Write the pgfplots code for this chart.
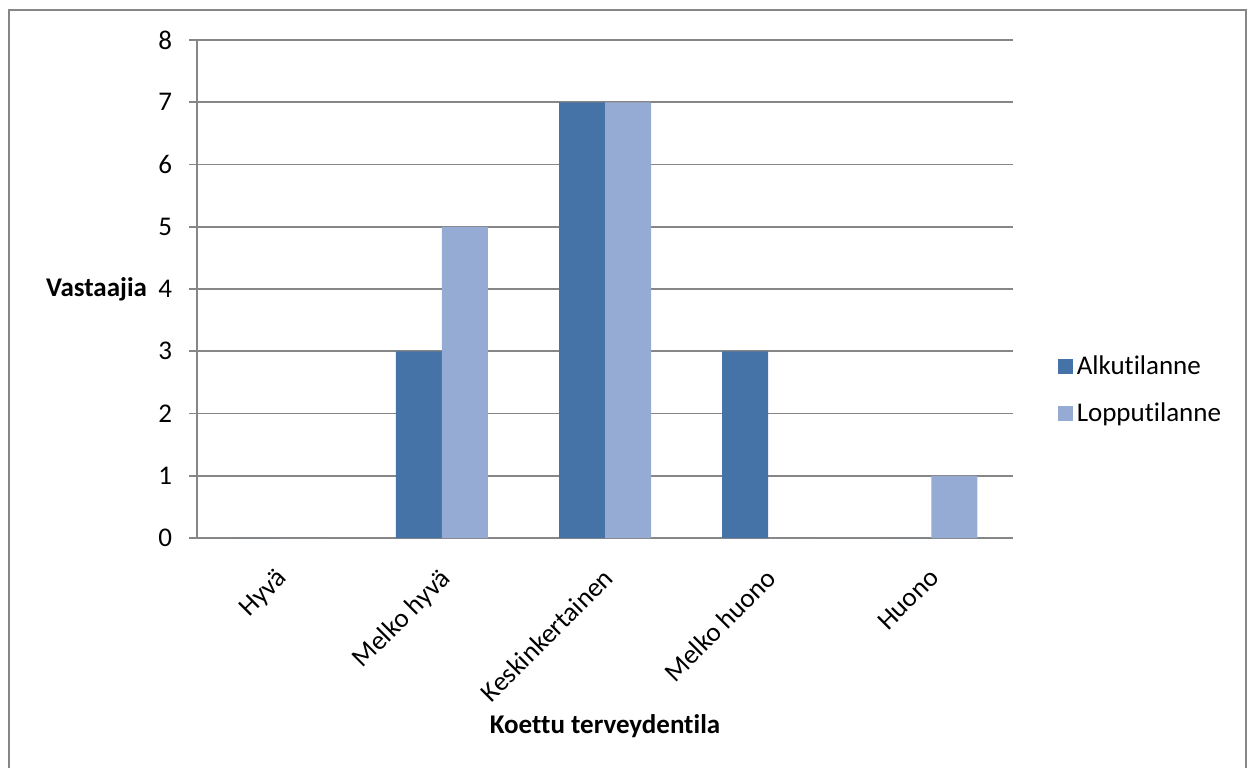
\documentclass[border=0pt]{standalone}
\usepackage{pgfplots}
\pgfplotsset{compat=1.18}
\usepackage{fontspec}
\setmainfont{Carlito}[Ligatures={NoCommon,NoContextual}, RawFeature={-liga;-calt;-dlig}]
\definecolor{alku}{RGB}{69,114,167}
\definecolor{loppu}{RGB}{150,171,211}
\definecolor{gridc}{RGB}{134,134,134}
\begin{document}
\begin{tikzpicture}[font=\fontsize{13.5pt}{16pt}\selectfont]
\begin{axis}[
  at={(98.5pt,114.5pt)}, anchor=south west,
  scale only axis, width=408pt, height=249pt,
  ybar=0pt, bar width=23pt,
  xmin=-0.5, xmax=4.5, ymin=0, ymax=8,
  axis x line*=bottom, axis y line*=left,
  axis line style={-, draw=gridc, line width=0.9pt},
  xtick={0,1,2,3,4},
  xticklabels={Hyvä, Melko hyvä, Keskinkertainen, Melko huono, Huono},
  x tick label style={rotate=45, anchor=north east, inner sep=1pt, xshift=-7.5pt, yshift=-5pt},
  major x tick style={draw=none},
  extra x ticks={-0.5,0.5,1.5,2.5,3.5,4.5},
  extra x tick labels={},
  extra x tick style={grid=none, tick style={draw=gridc, line width=0.9pt}, major tick length=4pt, tick align=outside},
  ytick={0,1,...,8},
  ymajorgrids,
  grid style={draw=gridc, line width=0.9pt},
  y tick style={draw=gridc, line width=0.9pt},
  tick align=outside, major tick length=4pt,
  y tick label style={xshift=-5pt},
  /pgf/number format/assume math mode=true,
  legend style={at={(1.047,0.297)}, anchor=west, draw=none, fill=none,
    row sep=9pt, font=\fontsize{13.5pt}{16pt}\selectfont},
  legend cell align=left,
  legend image code/.code={\fill[#1] (0pt,-3.75pt) rectangle (7.5pt,3.75pt);},
]
\addplot[fill=alku, draw=none] coordinates {(0,0) (1,3) (2,7) (3,3) (4,0)};
\addplot[fill=loppu, draw=none] coordinates {(0,0) (1,5) (2,7) (3,0) (4,1)};
\legend{Alkutilanne, Lopputilanne}
\end{axis}
\node[anchor=east, font=\bfseries\fontsize{13.5pt}{16pt}\selectfont] at (77pt,239pt) {Vastaajia};
\node[font=\bfseries\fontsize{13.5pt}{16pt}\selectfont] at (302.5pt,20.5pt) {Koettu terveydentila};
\draw[gridc, line width=1pt] (4.5pt,-1pt) -- (4.5pt,378.5pt) -- (623pt,378.5pt) -- (623pt,-1pt);
\pgfresetboundingbox
\path (0,0) rectangle (624pt,383.5pt);
\end{tikzpicture}
\end{document}
